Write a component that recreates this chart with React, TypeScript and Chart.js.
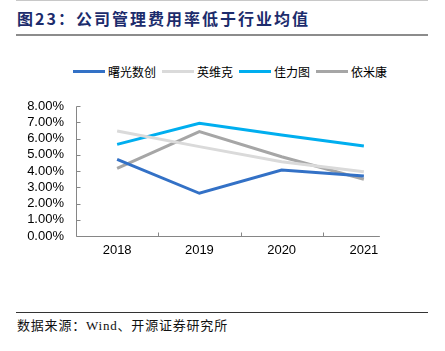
import React, { useEffect, useRef } from "react";
import { Chart, registerables } from "chart.js";

Chart.register(...registerables);

const categories = ["2018", "2019", "2020", "2021"];
const seriesNames = ["曙光数创", "英维克", "佳力图", "依米康"];
const seriesColors = ["#3371C6", "#DADADA", "#00AEEF", "#A6A6A6"];
const shuguang = [4.72, 2.63, 4.06, 3.69];
const yingweike = [6.46, 5.5, 4.57, 3.96];
const jialitu = [5.64, 6.93, 6.21, 5.54];
const yimikang = [4.16, 6.42, 4.88, 3.49];
const seriesValues = [shuguang, yingweike, jialitu, yimikang];
const yTicks = [0, 1, 2, 3, 4, 5, 6, 7, 8];

const axisPlugin = {
  id: "innerAxes",
  beforeDatasetsDraw(chart: any) {
    const { ctx, chartArea, scales } = chart;
    const x = scales.x;
    const y = scales.y;
    ctx.save();
    ctx.strokeStyle = "#868686";
    ctx.lineWidth = 1;
    const left = Math.round(chartArea.left) + 0.5;
    const bottom = Math.round(chartArea.bottom) + 0.5;
    const xEnd = x.getPixelForValue(categories.length - 1) + 16;
    ctx.beginPath();
    ctx.moveTo(left, Math.round(chartArea.top) + 0.5);
    ctx.lineTo(left, bottom);
    ctx.lineTo(xEnd, bottom);
    yTicks.forEach((t) => {
      const py = Math.round(y.getPixelForValue(t)) + 0.5;
      ctx.moveTo(left, py);
      ctx.lineTo(left + 4, py);
    });
    for (let i = 1; i < categories.length; i++) {
      const px =
        Math.round((x.getPixelForValue(i - 1) + x.getPixelForValue(i)) / 2) + 0.5;
      ctx.moveTo(px, bottom);
      ctx.lineTo(px, bottom - 4);
    }
    ctx.stroke();
    ctx.restore();
  },
};

export default function App() {
  const ref = useRef<HTMLCanvasElement>(null);
  useEffect(() => {
    if (!ref.current) return;
    const chart = new Chart(ref.current, {
      type: "line",
      data: {
        labels: categories,
        datasets: seriesValues.map((vals, i) => ({
          label: seriesNames[i],
          data: vals,
          borderColor: seriesColors[i],
          backgroundColor: seriesColors[i],
          borderWidth: 3,
          pointRadius: 0,
          tension: 0,
          fill: false,
        })),
      },
      options: {
        animation: false,
        responsive: false,
        maintainAspectRatio: false,
        layout: { padding: { top: 20, right: 40, left: 0, bottom: 0 } },
        plugins: {
          legend: { display: false },
          tooltip: { enabled: false },
        },
        scales: {
          x: {
            type: "category",
            offset: true,
            grid: { display: false, drawTicks: false },
            border: { display: false },
            ticks: {
              padding: 7,
              color: "#000",
              font: { family: "'Liberation Sans', Arial, sans-serif", size: 13 },
            },
            afterFit: (s: any) => {
              s.height = 30;
            },
          },
          y: {
            min: 0,
            max: 8,
            grid: { display: false, drawTicks: false },
            border: { display: false },
            afterBuildTicks: (s: any) => {
              s.ticks = yTicks.map((v) => ({ value: v }));
            },
            ticks: {
              stepSize: 1,
              autoSkip: false,
              padding: 12,
              color: "#000",
              font: { family: "'Liberation Sans', Arial, sans-serif", size: 13 },
              callback: (v: any) => Number(v).toFixed(2) + "%",
            },
            afterFit: (s: any) => {
              s.width = 76;
            },
          },
        },
      },
      plugins: [axisPlugin],
    });
    return () => chart.destroy();
  }, []);

  return (
    <div
      style={{
        position: "absolute",
        left: 0,
        top: 0,
        width: 445,
        height: 351,
        background: "#fff",
        overflow: "hidden",
      }}
    >
      <div
        style={{
          position: "absolute",
          left: 16,
          top: 0,
          width: 412,
          height: 1,
          background: "#c8c8c8",
        }}
      />
      <div
        style={{
          position: "absolute",
          left: 17,
          top: 7,
          fontFamily: "'Noto Sans CJK SC', sans-serif",
          fontWeight: 700,
          fontSize: 16,
          letterSpacing: 2,
          lineHeight: "22px",
          color: "#1c2c6c",
          whiteSpace: "nowrap",
        }}
      >
        图23：公司管理费用率低于行业均值
      </div>
      <div
        style={{
          position: "absolute",
          left: 16,
          top: 34,
          width: 412,
          height: 2,
          background: "#8c8c8c",
        }}
      />
      <div
        style={{
          position: "absolute",
          left: 73,
          top: 62,
          height: 18,
          display: "flex",
          alignItems: "center",
          fontFamily: "'Noto Sans CJK SC', sans-serif",
          fontSize: 12,
          color: "#000",
          whiteSpace: "nowrap",
        }}
      >
        {seriesNames.map((n, i) => (
          <div
            key={n}
            style={{ display: "flex", alignItems: "center", marginRight: 6 }}
          >
            <span
              style={{
                display: "inline-block",
                width: 32,
                height: 3,
                background: seriesColors[i],
                marginRight: 3,
              }}
            />
            <span>{n}</span>
          </div>
        ))}
      </div>
      <canvas
        ref={ref}
        width={445}
        height={180}
        style={{ position: "absolute", left: 0, top: 86, width: 445, height: 180 }}
      />
      <div
        style={{
          position: "absolute",
          left: 16,
          top: 312,
          width: 412,
          height: 1,
          background: "#333",
        }}
      />
      <div
        style={{
          position: "absolute",
          left: 17,
          top: 317,
          fontFamily: "'Liberation Serif', 'Noto Sans CJK SC', serif",
          fontSize: 13,
          letterSpacing: 0.8,
          lineHeight: "18px",
          color: "#111",
          whiteSpace: "nowrap",
        }}
      >
        数据来源：Wind、开源证券研究所
      </div>
    </div>
  );
}
